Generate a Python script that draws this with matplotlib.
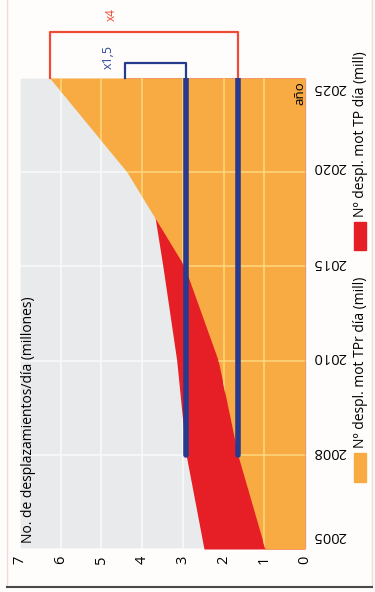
import matplotlib
matplotlib.use("Agg")
import matplotlib.pyplot as plt
from matplotlib.patches import Rectangle
from matplotlib.lines import Line2D
from matplotlib.transforms import blended_transform_factory, ScaledTranslation

plt.rcParams['font.family'] = ['Open Sans', 'DejaVu Sans']

# datos (millones de desplazamientos/dia)
anios = ['2005', '2008', '2010', '2015', '2020', '2025']
tpr = [2.48, 2.92, 3.15, 3.49, 3.86, 4.42]   # serie roja
tp = [0.98, 1.65, 2.13, 2.96, 4.37, 6.27]    # serie naranja
valores = [0, 1, 2, 3, 4, 5, 6, 7]
leyenda = ['Nº despl. mot TPr día (mill)', 'Nº despl. mot TP día (mill)']

gris = '#e8eaeb'
naranja = '#f8aa43'
rojo = '#e61f26'
azul = '#283a8e'
rojo_claro = '#ee4b36'

pos = list(range(len(anios)))

fig = plt.figure(figsize=(3.75, 5.92), dpi=100, facecolor='#fffdfb')
ax = fig.add_axes([20/375, 43/592, 287/375, 471/592])
ax.set_facecolor(gris)

# grafico girado: valores en horizontal (invertido), años en vertical
ax.set_xlim(7, -0.05)
ax.set_ylim(0, len(anios) - 1)

ax.set_axisbelow(True)
ax.grid(True, color='#fafafa', lw=1.1)

ax.fill_betweenx(pos, 0, tpr, color=rojo, lw=0, zorder=1)
area_tp = ax.fill_betweenx(pos, 0, tp, color=naranja, lw=0, zorder=1.5)

# rejilla amarillenta sobre la zona naranja
ruta = area_tp.get_paths()[0]
vl = ax.vlines(valores[1:-1], 0, len(anios) - 1, color='#fdd77e', lw=1.1, zorder=1.6)
hl = ax.hlines(pos[1:-1], -0.05, 7, color='#fdd77e', lw=1.1, zorder=1.6)
vl.set_clip_path(ruta, ax.transData)
hl.set_clip_path(ruta, ax.transData)

# lineas de referencia desde 2008
ax.plot([tpr[1], tpr[1]], [pos[1], pos[-1]], color=azul, lw=4, solid_capstyle='round', zorder=3)
ax.plot([tp[1], tp[1]], [pos[1], pos[-1]], color=azul, lw=4, solid_capstyle='round', zorder=3)

# corchetes de crecimiento
y_rojo = pos[-1] + 0.49
y_azul = pos[-1] + 0.16
ax.plot([tp[-1], tp[-1], tp[1], tp[1]], [pos[-1], y_rojo, y_rojo, pos[-1]],
        color=rojo_claro, lw=1.6, clip_on=False, zorder=2.5)
ax.plot([tpr[-1], tpr[-1], tpr[1], tpr[1]], [pos[-1], y_azul, y_azul, pos[-1]],
        color=azul, lw=1.6, clip_on=False, zorder=2.5)
ax.text(4.77, pos[-1] + 0.67, 'x%d' % round(tp[-1] / tp[1]), color=rojo_claro, fontsize=8.5,
        rotation=90, ha='center', va='center', clip_on=False)
ax.text(4.84, pos[-1] + 0.22, 'x1,5', color='#2f4a9c', fontsize=9,
        rotation=90, ha='center', va='center', clip_on=False)

# ejes
for s in ax.spines.values():
    s.set_visible(False)
ax.set_xticks(valores)
ax.set_xticklabels([str(v) for v in valores], rotation=90, fontsize=10.5)
ax.tick_params(axis='x', length=0, pad=5)
ax.set_yticks(pos)
ax.set_yticklabels([])
ax.tick_params(axis='y', length=0)

trans = blended_transform_factory(ax.transAxes, ax.transData)
desp = [13, 3, 4, 4, 6, -9]
for p, a, d in zip(pos, anios, desp):
    ax.text(1.02, p, a, rotation=180, fontsize=10.5, ha='left', va='center',
            transform=trans + ScaledTranslation(0, d / 100, fig.dpi_scale_trans))

ax.text(0.028, 0.013, 'No. de desplazamientos/día (millones)', rotation=90,
        fontsize=10, ha='center', va='bottom', transform=ax.transAxes)
ax.text(0.976, 0.994, 'año', rotation=90, fontsize=9.5, ha='center', va='top',
        transform=ax.transAxes)

# leyenda
fig.patches.append(Rectangle((354/375, 110/592), 12/375, 29/592, color=naranja,
                             transform=fig.transFigure, figure=fig))
fig.text(360/375, 144/592, leyenda[0], rotation=90, fontsize=10, ha='center', va='bottom')
fig.patches.append(Rectangle((354/375, 342/592), 12/375, 28/592, color=rojo,
                             transform=fig.transFigure, figure=fig))
fig.text(360/375, 375/592, leyenda[1], rotation=90, fontsize=10, ha='center', va='bottom')

# marco
fig.add_artist(Line2D([7/375, 7/375], [5/592, 1], color='#ecdcd6', lw=1))
fig.add_artist(Line2D([372/375, 372/375], [5/592, 1], color='#ecdcd6', lw=1))
fig.add_artist(Line2D([7/375, 372/375], [5/592, 5/592], color='#4a4a4a', lw=1.5))

fig.savefig('out.png', dpi=100, facecolor=fig.get_facecolor())
